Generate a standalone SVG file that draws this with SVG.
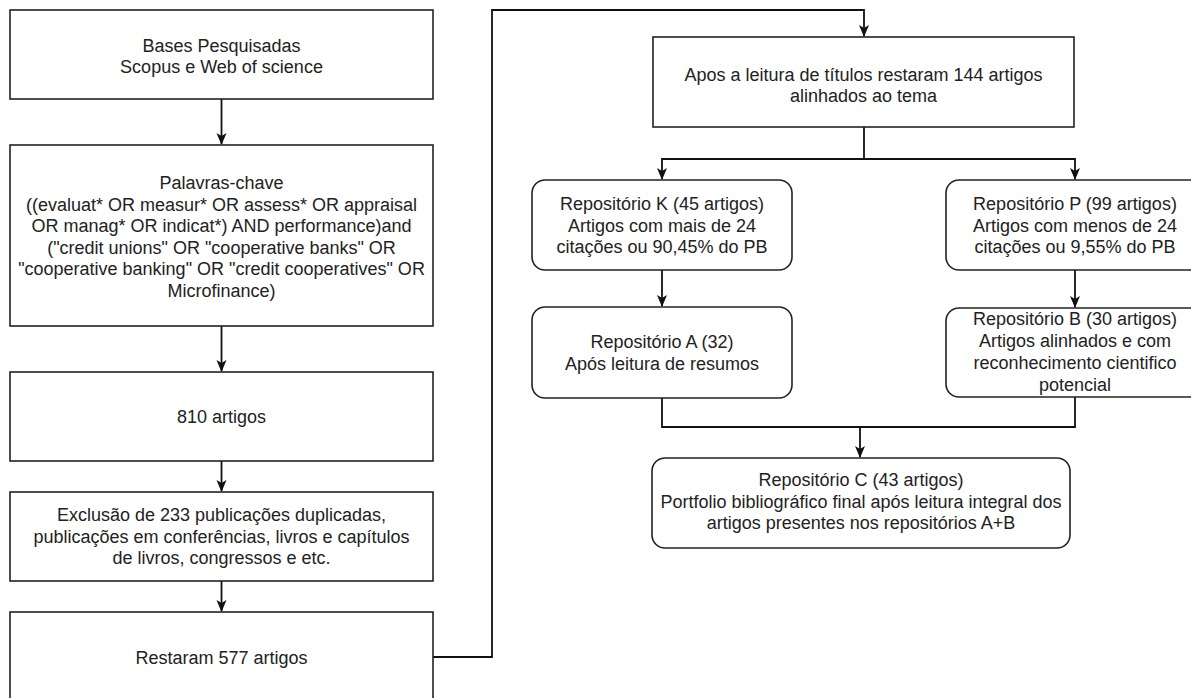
<svg xmlns="http://www.w3.org/2000/svg" width="1191" height="698" viewBox="0 0 1191 698">
<defs>
<style>
.box{fill:#fff;stroke:#222;stroke-width:1.6}
.t{font-family:"Liberation Sans",Arial,sans-serif;font-size:18px;fill:#222;text-anchor:middle}
.c{fill:none;stroke:#111;stroke-width:1.8}
.a{marker-end:url(#arr)}
</style>
<marker id="arr" markerUnits="userSpaceOnUse" viewBox="0 0 12 12" refX="11" refY="6" markerWidth="12" markerHeight="12" orient="auto">
<path d="M0,1 L12,6 L0,11 L3,6 Z" fill="#111"/>
</marker>
</defs>
<rect width="1191" height="698" fill="#fff"/>
<g id="connectors">
<path class="c a" d="M221.5,99 V144"/>
<path class="c a" d="M221.5,326 V371"/>
<path class="c a" d="M221.5,461 V491"/>
<path class="c a" d="M221.5,581 V611"/>
<path class="c a" d="M433,657 H492 V10 H864 V36"/>
<path class="c a" d="M864,127 V159 H662 V179"/>
<path class="c a" d="M864,159 H1075 V179"/>
<path class="c a" d="M662,270 V306"/>
<path class="c a" d="M1075,270 V307"/>
<path class="c a" d="M662,398 V427 H860 V457"/>
<path class="c" d="M1075,397 V427 H860"/>
</g>
<g id="n1"><rect class="box" x="10" y="10" width="423" height="89"/>
<text class="t" x="221.5" y="52">Bases Pesquisadas</text>
<text class="t" x="221.5" y="73">Scopus e Web of science</text></g>
<g id="n2"><rect class="box" x="10" y="145" width="423" height="181"/>
<text class="t" x="221.5" y="189">Palavras-chave</text>
<text class="t" x="221.5" y="210.5">((evaluat* OR measur* OR assess* OR appraisal</text>
<text class="t" x="221.5" y="232">OR manag* OR indicat*) AND performance)and</text>
<text class="t" x="221.5" y="253.5">("credit unions" OR "cooperative banks" OR</text>
<text class="t" x="221.5" y="275">"cooperative banking" OR "credit cooperatives" OR</text>
<text class="t" x="221.5" y="296.5">Microfinance)</text></g>
<g id="n3"><rect class="box" x="10" y="372" width="423" height="89"/>
<text class="t" x="221.5" y="423">810 artigos</text></g>
<g id="n4"><rect class="box" x="10" y="492" width="423" height="89"/>
<text class="t" x="221.5" y="521">Exclusão de 233 publicações duplicadas,</text>
<text class="t" x="221.5" y="542.5">publicações em conferências, livros e capítulos</text>
<text class="t" x="221.5" y="564">de livros, congressos e etc.</text></g>
<g id="n5"><rect class="box" x="10" y="612" width="423" height="90"/>
<text class="t" x="221.5" y="664">Restaram 577 artigos</text></g>
<g id="n6"><rect class="box" x="653" y="37" width="421" height="90"/>
<text class="t" x="863.5" y="81">Apos a leitura de títulos restaram 144 artigos</text>
<text class="t" x="863.5" y="102">alinhados ao tema</text></g>
<g id="n7"><rect class="box" x="532" y="180" width="260" height="90" rx="13"/>
<text class="t" x="662" y="210">Repositório K (45 artigos)</text>
<text class="t" x="662" y="231.5">Artigos com mais de 24</text>
<text class="t" x="662" y="253">citações ou 90,45% do PB</text></g>
<g id="n8"><rect class="box" x="946" y="180" width="260" height="90" rx="13"/>
<text class="t" x="1075" y="210">Repositório P (99 artigos)</text>
<text class="t" x="1075" y="231.5">Artigos com menos de 24</text>
<text class="t" x="1075" y="253">citações ou 9,55% do PB</text></g>
<g id="n9"><rect class="box" x="532" y="307" width="260" height="91" rx="13"/>
<text class="t" x="662" y="348">Repositório A (32)</text>
<text class="t" x="662" y="369.5">Após leitura de resumos</text></g>
<g id="n10"><rect class="box" x="946" y="308" width="260" height="89" rx="13"/>
<text class="t" x="1075" y="325">Repositório B (30 artigos)</text>
<text class="t" x="1075" y="347">Artigos alinhados e com</text>
<text class="t" x="1075" y="369">reconhecimento cientifico</text>
<text class="t" x="1075" y="391">potencial</text></g>
<g id="n11"><rect class="box" x="652" y="458" width="418" height="90" rx="13"/>
<text class="t" x="861" y="486">Repositório C (43 artigos)</text>
<text class="t" x="861" y="507.5">Portfolio bibliográfico final após leitura integral dos</text>
<text class="t" x="861" y="529">artigos presentes nos repositórios A+B</text></g>
</svg>
